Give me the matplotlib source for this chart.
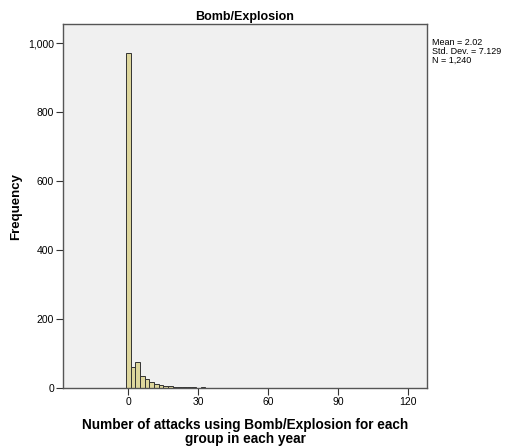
import matplotlib
matplotlib.use('Agg')
import matplotlib.pyplot as plt
from matplotlib.ticker import FuncFormatter

plt.rcParams['font.family'] = ['Liberation Sans', 'DejaVu Sans']

# bin centres (width 2) and counts
bin_centers = [0, 2, 4, 6, 8, 10, 12, 14, 16, 18, 20, 22, 24, 26, 28, 30,
               32, 34, 38, 40, 42, 48, 50, 74, 86, 102]
counts = [970, 62, 74, 35, 25, 17, 12, 8, 6, 5, 4, 3, 4, 2, 2, 1,
          2, 1, 1, 1, 1, 1, 1, 1, 1, 1]
bin_width = 2
x_ticks = [0, 30, 60, 90, 120]
y_ticks = [0, 200, 400, 600, 800, 1000]
stats_text = "Mean = 2.02\nStd. Dev. = 7.129\nN = 1,240"

fig = plt.figure(figsize=(5.12, 4.47), dpi=100)
ax = fig.add_axes([0.123, 0.132, 0.711, 0.814])
ax.set_facecolor('#f0f0f0')

ax.bar(bin_centers, counts, width=bin_width, color='#ddd69c',
       edgecolor='#333333', linewidth=0.7)

ax.set_xlim(-28, 128)
ax.set_ylim(0, 1055)
ax.set_xticks(x_ticks)
ax.set_yticks(y_ticks)
ax.yaxis.set_major_formatter(FuncFormatter(lambda v, p: f"{int(v):,}"))
ax.tick_params(labelsize=7.5, length=5, width=0.8, color='#333333', pad=1.5)

for s in ax.spines.values():
    s.set_color('#555555')
    s.set_linewidth(1.0)

ax.set_title('Bomb/Explosion', fontsize=9, fontweight='bold', pad=3)
ax.set_ylabel('Frequency', fontsize=9.5, fontweight='bold', labelpad=4)
ax.set_xlabel('Number of attacks using Bomb/Explosion for each\ngroup in each year',
              fontsize=9.8, fontweight='bold', labelpad=8, linespacing=1.0)

fig.text(0.844, 0.915, stats_text, fontsize=6.5, va='top', ha='left', linespacing=1.0)

fig.savefig('out.png', dpi=100, facecolor='white')
